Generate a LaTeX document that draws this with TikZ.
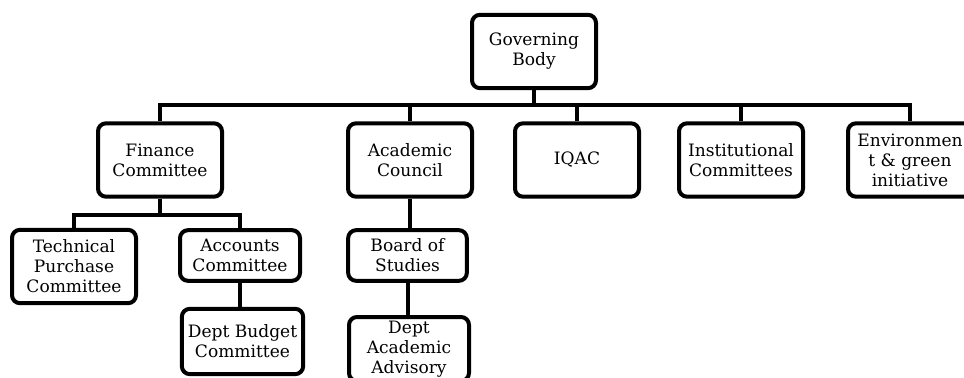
\documentclass[tikz,border=0pt]{standalone}
\usepackage{fontspec}
\setmainfont{DejaVu Serif}
\begin{document}
\begin{tikzpicture}[x=0.75pt,y=-0.75pt,
  box/.style={draw,line width=3pt,rounded corners=6pt,align=center,inner sep=0pt,
    minimum width=93pt,minimum height=55pt,font=\fontsize{12.8}{15}\selectfont},
  link/.style={line width=3pt}]
\useasboundingbox (0,0) rectangle (964,378);
\node[box] (gov) at (534,51.5) {Governing\\Body}; %top
\node[box] (fin) at (160,160) {Finance\\Committee}; %second row
\node[box] (acad) at (410,160) {Academic\\Council};
\node[box] (iqac) at (577,160) {IQAC};
\node[box] (inst) at (741,160) {Institutional\\Committees};
\node[box] (env) at (910,160) {Environmen\\t \& green\\initiative};
\node[box] (tech) at (74,266.5) {Technical\\Purchase\\Committee}; %under finance
\node[box,minimum width=90pt,minimum height=38pt] (acc) at (240,255.5) {Accounts\\Committee};
\node[box,minimum width=91pt,minimum height=49pt] (budget) at (242.5,341.5) {Dept Budget\\Committee};
\node[box,minimum width=89pt,minimum height=38pt] (board) at (407.5,255.5) {Board of\\Studies}; %under academic
\node[box,minimum width=90pt,minimum height=48pt] (adv) at (409,349) {Dept\\Academic\\Advisory};
\coordinate (bar) at (535,105); %connectors
\coordinate (finbar) at (160,215);
\foreach \c in {fin,acad,iqac,inst,env}
  \draw[link] (gov.south) |- (\c.north |- bar) -- (\c.north);
\foreach \c in {tech,acc}
  \draw[link] (fin.south) |- (\c.north |- finbar) -- (\c.north);
\draw[link] (acc.south) -- (budget.north -| acc.south);
\draw[link] (acad.south) -- (board.north -| acad.south);
\draw[link] (board.south) -- (adv.north -| board.south);
\end{tikzpicture}
\end{document}
